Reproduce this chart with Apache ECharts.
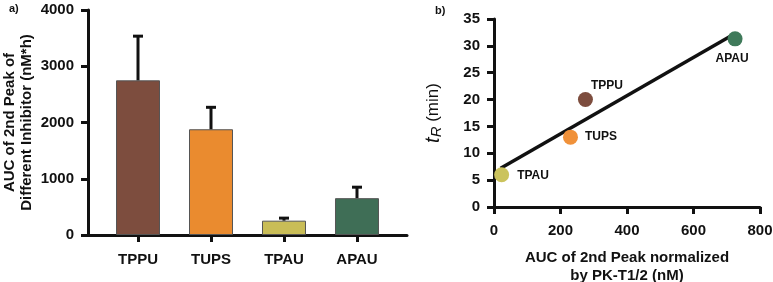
<!DOCTYPE html>
<html>
<head>
<meta charset="utf-8">
<script src="https://cdn.jsdelivr.net/npm/echarts@6/dist/echarts.min.js"></script>
<style>
  html, body { margin: 0; padding: 0; background: #fff; }
  #chart { width: 773px; height: 282px; }
</style>
</head>
<body>
<div id="chart"></div>
<script>
// panel a) bar chart
const inhibitors = ['TPPU', 'TUPS', 'TPAU', 'APAU'];
const aucValues = [2750, 1880, 255, 655];
const aucErrors = [785, 390, 45, 195];
const barColors = ['#7d4d3e', '#ea8b2f', '#c9bd57', '#3f6e56'];

// panel b) scatter + fit
const pointNames = ['TPAU', 'TUPS', 'TPPU', 'APAU'];
const normAuc = [23, 230, 275, 725];
const retention = [6, 13, 20, 31.3];
const dotColors = ['#cbc35c', '#f0913a', '#7d4d3e', '#3f7a5a'];
const fitLine = [[20, 7.2], [720, 32.1]];
const xTicksB = [0, 200, 400, 600, 800];

const font = 'Liberation Sans, Arial, sans-serif';
const ink = '#111';

const chart = echarts.init(document.getElementById('chart'));

const axisLine = { show: true, onZero: false, lineStyle: { color: ink, width: 3 } };
const axisTick = { show: true, length: 7, lineStyle: { color: ink, width: 3 } };
const tickLabel = { color: ink, fontSize: 15, fontWeight: 'bold', fontFamily: font, formatter: v => String(v) };

// label placement for each point label
const labelPlace = {
  TPAU: { position: 'right', distance: 8, offset: [0, 1] },
  TUPS: { position: 'right', distance: 7, offset: [0, 0] },
  TPPU: { position: 'right', distance: 0, offset: [-2, -14] },
  APAU: { position: 'bottom', distance: 6, offset: [-3, 0] }
};

const option = {
  animation: false,
  backgroundColor: '#fff',
  textStyle: { fontFamily: font },
  title: [
    { text: 'a)', left: 4, top: -2, textStyle: { fontSize: 11, fontWeight: 'bold', color: ink, fontFamily: font } },
    { text: 'b)', left: 430, top: 0, textStyle: { fontSize: 11, fontWeight: 'bold', color: ink, fontFamily: font } }
  ],
  grid: [
    { left: 88, top: 10, width: 319, height: 225, outerBoundsMode: 'none', containLabel: false },
    { left: 494, top: 19, width: 266, height: 188, outerBoundsMode: 'none', containLabel: false }
  ],
  xAxis: [
    {
      gridIndex: 0,
      type: 'value',
      min: -0.685,
      max: 3.685,
      splitLine: { show: false },
      axisLine: axisLine,
      axisTick: Object.assign({}, axisTick, { customValues: [0, 1, 2, 3] }),
      axisLabel: Object.assign({}, tickLabel, {
        customValues: [0, 1, 2, 3],
        margin: 17,
        formatter: v => inhibitors[Math.round(v)]
      })
    },
    {
      gridIndex: 1,
      type: 'value',
      min: 0,
      max: 800,
      splitLine: { show: false },
      axisLine: axisLine,
      axisTick: Object.assign({}, axisTick, { customValues: xTicksB }),
      axisLabel: Object.assign({}, tickLabel, { customValues: xTicksB, margin: 16 }),
      name: 'AUC of 2nd Peak normalized\nby PK-T1/2 (nM)',
      nameLocation: 'middle',
      nameGap: 42,
      nameTextStyle: { color: ink, fontSize: 15, fontWeight: 'bold', lineHeight: 18, fontFamily: font }
    }
  ],
  yAxis: [
    {
      gridIndex: 0,
      type: 'value',
      min: 0,
      max: 4000,
      interval: 1000,
      splitLine: { show: false },
      axisLine: axisLine,
      axisTick: axisTick,
      axisLabel: Object.assign({}, tickLabel, { margin: 14 }),
      name: 'AUC of 2nd Peak of\nDifferent Inhibitor (nM*h)',
      nameLocation: 'middle',
      nameGap: 53,
      nameTextStyle: { color: ink, fontSize: 15, fontWeight: 'bold', lineHeight: 17, fontFamily: font }
    },
    {
      gridIndex: 1,
      type: 'value',
      min: 0,
      max: 35,
      interval: 5,
      splitLine: { show: false },
      axisLine: axisLine,
      axisTick: axisTick,
      axisLabel: Object.assign({}, tickLabel, { margin: 14 }),
      name: '{t|t}{r|R} (min)',
      nameLocation: 'middle',
      nameGap: 50,
      nameTextStyle: {
        color: ink, fontSize: 17, fontFamily: font,
        rich: {
          t: { fontStyle: 'italic', fontSize: 20, color: ink, fontFamily: font },
          r: { fontStyle: 'italic', fontSize: 15, color: ink, fontFamily: font, padding: [7, 0, 0, 0] }
        }
      }
    }
  ],
  series: [
    {
      type: 'bar',
      xAxisIndex: 0,
      yAxisIndex: 0,
      barWidth: 44,
      data: aucValues.map((v, i) => ({
        value: [i, v],
        itemStyle: { color: barColors[i], borderColor: '#555', borderWidth: 1 }
      }))
    },
    {
      type: 'custom',
      xAxisIndex: 0,
      yAxisIndex: 0,
      z: 5,
      data: aucValues.map((v, i) => [i, v, aucErrors[i]]),
      renderItem: function (params, api) {
        const x = api.value(0);
        const v = api.value(1);
        const e = api.value(2);
        const base = api.coord([x, v]);
        const top = api.coord([x, v + e]);
        return {
          type: 'group',
          children: [
            { type: 'line', shape: { x1: base[0], y1: base[1], x2: top[0], y2: top[1] },
              style: { stroke: ink, lineWidth: 3 } },
            { type: 'line', shape: { x1: top[0] - 5, y1: top[1], x2: top[0] + 5, y2: top[1] },
              style: { stroke: ink, lineWidth: 3 } }
          ]
        };
      }
    },
    {
      type: 'line',
      xAxisIndex: 1,
      yAxisIndex: 1,
      symbol: 'none',
      z: 2,
      lineStyle: { color: ink, width: 3.5 },
      data: fitLine
    },
    {
      type: 'scatter',
      xAxisIndex: 1,
      yAxisIndex: 1,
      symbolSize: 15,
      z: 4,
      data: normAuc.map((x, i) => ({
        name: pointNames[i],
        value: [x, retention[i]],
        itemStyle: { color: dotColors[i], opacity: 1 },
        label: Object.assign({
          show: true,
          formatter: '{b}',
          color: ink,
          fontSize: 12,
          fontWeight: 'bold',
          fontFamily: font
        }, labelPlace[pointNames[i]])
      }))
    }
  ]
};

chart.setOption(option);
</script>
</body>
</html>
